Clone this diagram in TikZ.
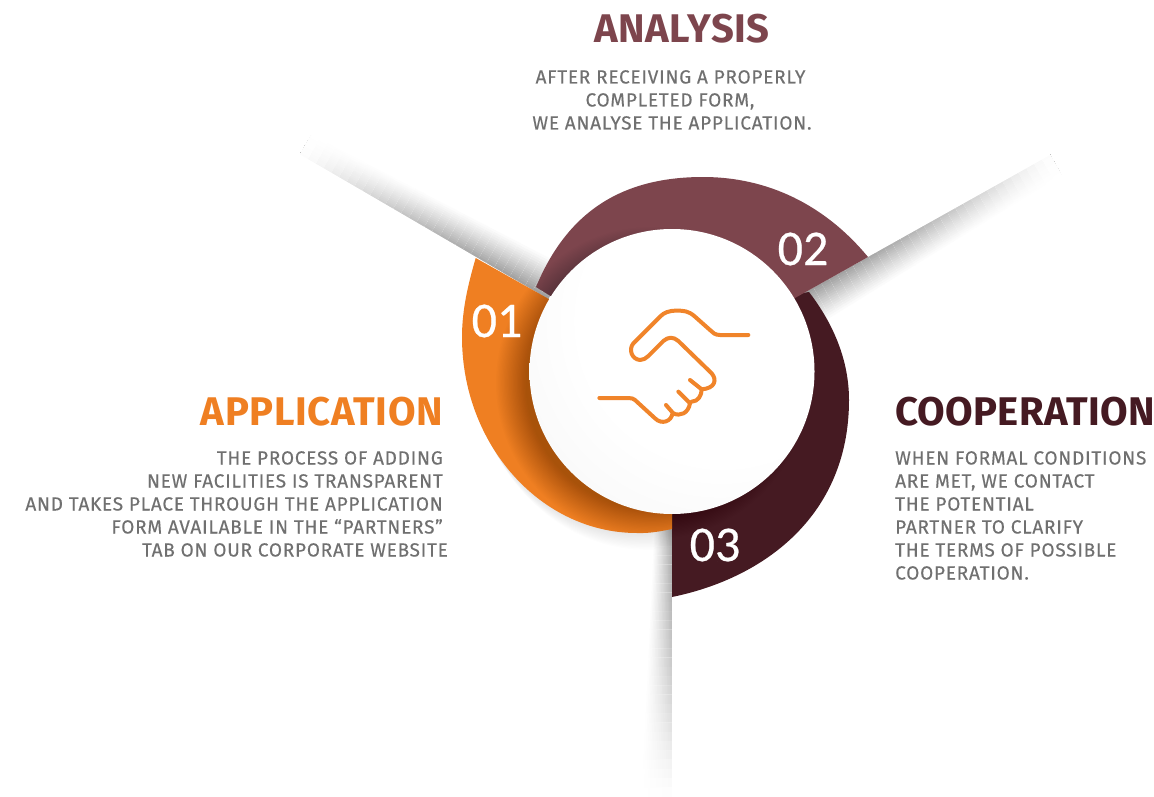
\documentclass[tikz,border=0pt]{standalone}
\usepackage{fontspec}
\usepackage{tikz}
\usetikzlibrary{calc}
\setmainfont{Fira Sans}
\newfontfamily\bodyfont[LetterSpace=4,FakeBold=0.25]{Fira Sans}
\newfontfamily\titlefont[LetterSpace=1.5]{Fira Sans}
\newfontfamily\coopfont[LetterSpace=0.8]{Fira Sans}
\newfontfamily\numfont[FakeBold=0.5]{Carlito}
\definecolor{cOrange}{HTML}{EF7F22}
\definecolor{cMaroon}{HTML}{7D454D}
\definecolor{cDark}{HTML}{451A22}
\definecolor{cBody}{HTML}{707070}
\definecolor{cIcon}{HTML}{F0842A}
\tikzset{
  bodyline/.style={text=cBody,font=\bodyfont\fontsize{19}{19}\selectfont,inner sep=0pt},
  titleline/.style={font=\titlefont\bfseries\fontsize{40}{40}\selectfont,inner sep=0pt},
  numline/.style={text=white,font=\numfont\fontsize{50}{50}\selectfont,inner sep=0pt},
  iconline/.style={draw=cIcon,line width=4pt,line cap=round,line join=round}
}
\pgfdeclareradialshading{discshade}{\pgfpoint{12bp}{12bp}}{color(0bp)=(white); color(25bp)=(white); color(47bp)=(black!4); color(67bp)=(black!15); color(100bp)=(black!15)}
% a = base on edge, b = far on edge, c = base outer, d = far outer, #5 = darkness
\newcommand{\fadedshadow}[5]{%
  \foreach \j in {0,...,31}{%
    \pgfmathsetmacro{\s}{\j/32}%
    \pgfmathsetmacro{\gl}{#5*pow(max(1-\s*\s,0.001),1.3)}%
    \coordinate (pp) at ($(#1)!\s!(#2)$);
    \coordinate (qq) at ($(#3)!\s!(#4)$);
    \foreach \i in {0,...,16}{%
      \pgfmathsetmacro{\wd}{1-\i/16}%
      \pgfmathsetmacro{\dk}{\gl*pow(1-\wd,1.15)}%
      \fill[black!\dk!white] (pp) -- ($(pp)!\wd!(qq)$) -- ($(#2)!\wd!(#4)$) -- (#2) -- cycle;
    }%
  }%
  \fill[white] (#1) -- (#2) -- ($(#2)!-1!(#4)$) -- ($(#1)!-1!(#3)$) -- cycle;
}
\def\orangepath{(475.7,258) .. controls (468.5,283) and (462,309) .. (462,337) .. controls (462,445) and (541,533) .. (637,533) .. controls (650,533.5) and (662,531) .. (672,529) -- (672,371) -- (547,298) -- cycle}
\def\maroonpath{(536,287) .. controls (566,215) and (618,177) .. (703,177) .. controls (768,177) and (825,205) .. (868,257) -- (795,298) -- (672,371) -- cycle}
\def\darkpath{(790,295) -- (809,292) .. controls (829,318) and (849,355) .. (849,400) .. controls (849,515) and (765,578) .. (672,597) -- (672,371) -- cycle}
\begin{document}
\begin{tikzpicture}[x=1pt,y=-1pt]
\useasboundingbox (0,0) rectangle (1154,797);
\fill[white] (0,0) rectangle (1154,797);

% long shadows
\coordinate (sAa) at (548,299); \coordinate (sAb) at (300,154.5);
\coordinate (sAc) at (568,265); \coordinate (sAd) at (312,134);
\fadedshadow{sAa}{sAb}{sAc}{sAd}{40}
\coordinate (sBa) at (798,296); \coordinate (sBb) at (1050,155);
\coordinate (sBc) at (816,329); \coordinate (sBd) at (1062,176);
\fadedshadow{sBa}{sBb}{sBc}{sBd}{40}
\coordinate (sCa) at (672,500); \coordinate (sCb) at (672,797);
\coordinate (sCc) at (655,500); \coordinate (sCd) at (640,797);
\fadedshadow{sCa}{sCb}{sCc}{sCd}{34}

% soft shadow below the orange band
\foreach \o in {1,...,12}{
  \begin{scope}[shift={(0.8*\o,1.4*\o)}]
    \fill[black,fill opacity=0.006] \orangepath;
  \end{scope}
}

% bands
\fill[cDark] \darkpath;
\fill[cMaroon] \maroonpath;
\fill[cOrange] \orangepath;
\begin{scope}
  \clip \orangepath \maroonpath \darkpath;
  \foreach \r in {0,...,23}{
    \pgfmathsetmacro{\rr}{156-\r*1.3}
    \fill[black,fill opacity=0.013] (652,383) circle (\rr);
  }
\end{scope}

% central disc
\shade[shading=discshade] (672,371.5) circle (142.5);

% handshake
\begin{scope}[shift={(580,290)},scale=1/3]
  \draw[iconline] (505,135) -- (420,135) .. controls (405,135) and (398,128) .. (390,120) -- (345,80) .. controls (325,62) and (310,62) .. (290,62) .. controls (265,62) and (252,68) .. (240,80) -- (160,160) .. controls (145,178) and (155,208) .. (180,210) .. controls (190,210) and (198,205) .. (205,198) -- (250,153) .. controls (265,140) and (280,140) .. (295,153) -- (395,250) .. controls (412,270) and (405,295) .. (365,298);
  \draw[iconline] (58,324) -- (145,324) .. controls (155,324) and (160,326) .. (165,330) -- (225,385) .. controls (245,405) and (275,395) .. (278,368) -- (258,345);
  \draw[iconline] (280,370) .. controls (300,380) and (325,370) .. (330,340) -- (295,305);
  \draw[iconline] (335,335) .. controls (355,335) and (365,315) .. (365,298) -- (330,270);
\end{scope}

% numbers
\node[numline] (n1) at (497,321) {01};
\node[numline] (n2) at (803,249) {02};
\node[numline] (n3) at (715,545) {03};

% titles
\node[titleline,text=cMaroon,anchor=base] (tA) at (682,43) {ANALYSIS};
\node[titleline,text=cOrange,anchor=base east] (tB) at (443,425) {APPLICATION};
\node[titleline,font=\coopfont\bfseries\fontsize{40}{40}\selectfont,text=cDark,anchor=base west] (tC) at (895,425) {COOPERATION};

% analysis body
\node[bodyline,anchor=base] (a1) at (670.5,83.5) {AFTER RECEIVING A PROPERLY};
\node[bodyline,anchor=base] (a2) at (670,106.5) {COMPLETED FORM,};
\node[bodyline,anchor=base] (a3) at (672,129.5) {WE ANALYSE THE APPLICATION.};

% application body
\node[bodyline,anchor=base east] (b1) at (443,464.5) {THE PROCESS OF ADDING};
\node[bodyline,anchor=base east] (b2) at (443,487.5) {NEW FACILITIES IS TRANSPARENT};
\node[bodyline,anchor=base east] (b3) at (443,510.5) {AND TAKES PLACE THROUGH THE APPLICATION};
\node[bodyline,anchor=base east] (b4) at (443,533.5) {FORM AVAILABLE IN THE “PARTNERS”};
\node[bodyline,anchor=base east] (b5) at (448,556.5) {TAB ON OUR CORPORATE WEBSITE};

% cooperation body
\node[bodyline,anchor=base west] (c1) at (895,464.5) {WHEN FORMAL CONDITIONS};
\node[bodyline,anchor=base west] (c2) at (895,487.5) {ARE MET, WE CONTACT};
\node[bodyline,anchor=base west] (c3) at (895,510.5) {THE POTENTIAL};
\node[bodyline,anchor=base west] (c4) at (895,533.5) {PARTNER TO CLARIFY};
\node[bodyline,anchor=base west] (c5) at (895,556.5) {THE TERMS OF POSSIBLE};
\node[bodyline,anchor=base west] (c6) at (895,579.5) {COOPERATION.};
\end{tikzpicture}
\end{document}
